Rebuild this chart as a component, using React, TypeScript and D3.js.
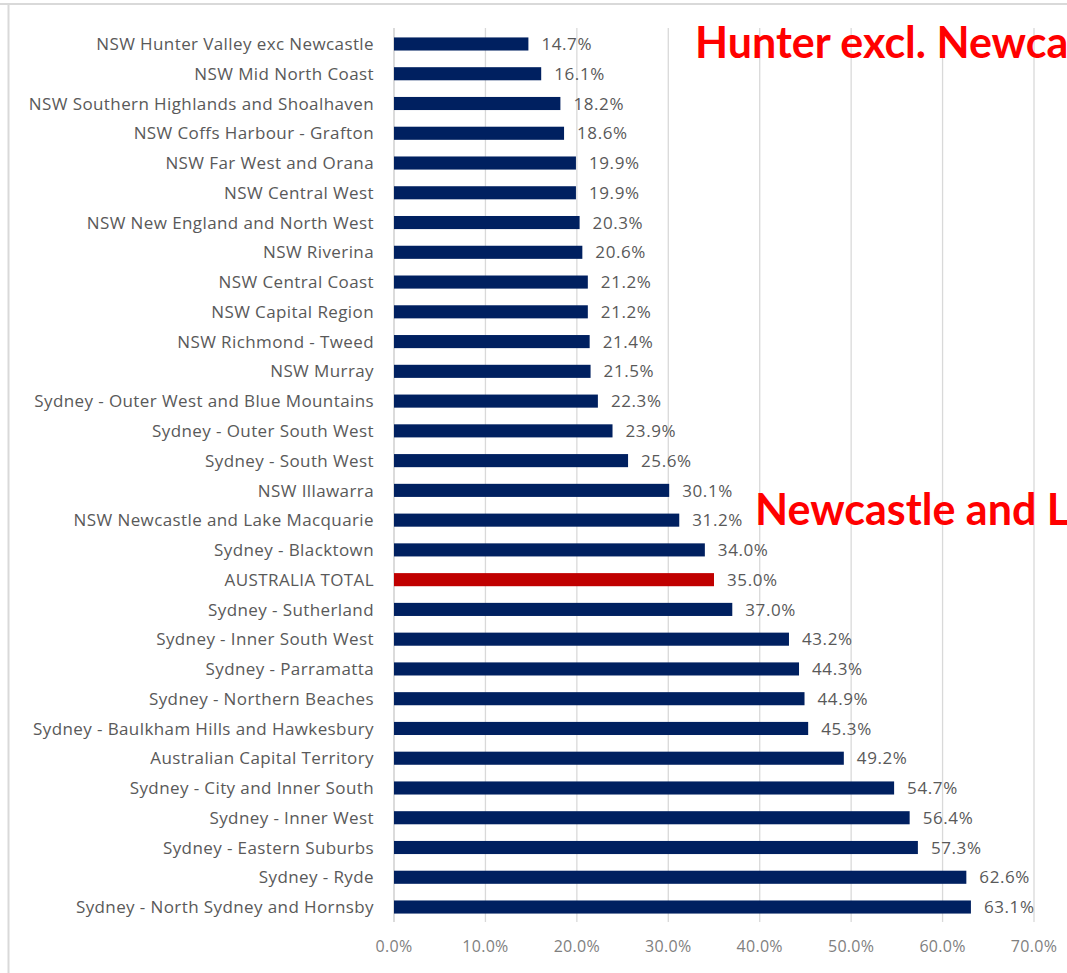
import React from "react";
import * as d3 from "d3";

const categories = [
  "NSW Hunter Valley exc Newcastle",
  "NSW Mid North Coast",
  "NSW Southern Highlands and Shoalhaven",
  "NSW Coffs Harbour - Grafton",
  "NSW Far West and Orana",
  "NSW Central West",
  "NSW New England and North West",
  "NSW Riverina",
  "NSW Central Coast",
  "NSW Capital Region",
  "NSW Richmond - Tweed",
  "NSW Murray",
  "Sydney - Outer West and Blue Mountains",
  "Sydney - Outer South West",
  "Sydney - South West",
  "NSW Illawarra",
  "NSW Newcastle and Lake Macquarie",
  "Sydney - Blacktown",
  "AUSTRALIA TOTAL",
  "Sydney - Sutherland",
  "Sydney - Inner South West",
  "Sydney - Parramatta",
  "Sydney - Northern Beaches",
  "Sydney - Baulkham Hills and Hawkesbury",
  "Australian Capital Territory",
  "Sydney - City and Inner South",
  "Sydney - Inner West",
  "Sydney - Eastern Suburbs",
  "Sydney - Ryde",
  "Sydney - North Sydney and Hornsby",
];

const values = [
  14.7, 16.1, 18.2, 18.6, 19.9, 19.9, 20.3, 20.6, 21.2, 21.2, 21.4, 21.5, 22.3,
  23.9, 25.6, 30.1, 31.2, 34.0, 35.0, 37.0, 43.2, 44.3, 44.9, 45.3, 49.2, 54.7,
  56.4, 57.3, 62.6, 63.1,
];

const highlight = ["AUSTRALIA TOTAL"];

const xTicks = [0, 10, 20, 30, 40, 50, 60, 70];

const annotations = [
  { text: "Hunter excl. Newcastle", x: 695, y: 58 },
  { text: "Newcastle and Lake Macquarie", x: 755, y: 525 },
];

const W = 1067;
const H = 973;
const FONT = "'Open Sans', Lato, sans-serif";
const TITLE_FONT = "Lato, 'Open Sans', sans-serif";

export default function App() {
  const x = d3.scaleLinear().domain([0, 70]).range([394, 1034]);
  const y = d3
    .scaleBand<string>()
    .domain(categories)
    .range([29.1, 921.9])
    .paddingInner(0.56)
    .paddingOuter(0.28);
  const plotTop = 28;
  const plotBottom = 922;
  const fmt = d3.format(".1f");

  return (
    <svg
      width={W}
      height={H}
      style={{ position: "absolute", left: 0, top: 0, background: "#fff" }}
      fontFamily={FONT}
    >
      <rect x={0} y={0} width={W} height={H} fill="#fff" />
      {/* frame */}
      <line x1={0} x2={W} y1={4} y2={4} stroke="#d9d9d9" strokeWidth={2} />
      <line x1={8.5} x2={8.5} y1={4} y2={H} stroke="#d9d9d9" strokeWidth={2} />
      {/* gridlines */}
      {xTicks.map((t) => (
        <line
          key={"g" + t}
          x1={x(t)}
          x2={x(t)}
          y1={plotTop}
          y2={plotBottom}
          stroke={t === 0 ? "#c8c8c8" : "#d9d9d9"}
          strokeWidth={1.3}
        />
      ))}
      {/* tick labels */}
      {xTicks.map((t) => (
        <text
          key={"t" + t}
          x={x(t)}
          y={952}
          textAnchor="middle"
          fontSize={16}
          letterSpacing={0.3}
          fill="#7f7f7f"
        >
          {fmt(t) + "%"}
        </text>
      ))}
      {/* bars */}
      {categories.map((c, i) => {
        const yy = y(c)!;
        const bw = y.bandwidth();
        const v = values[i];
        return (
          <g key={c}>
            <rect
              x={x(0)}
              y={yy}
              width={x(v) - x(0)}
              height={bw}
              fill={highlight.includes(c) ? "#c00000" : "#002060"}
            />
            <text
              x={x(v) + 13}
              y={yy + bw / 2}
              dy="0.36em"
              fontSize={17}
              letterSpacing={0.6}
              fill="#595959"
            >
              {fmt(v) + "%"}
            </text>
            <text
              x={374}
              y={yy + bw / 2}
              dy="0.36em"
              textAnchor="end"
              fontSize={17}
              letterSpacing={0.4}
              fill="#595959"
            >
              {c}
            </text>
          </g>
        );
      })}
      {/* annotations */}
      {annotations.map((a) => (
        <text
          key={a.text}
          x={a.x}
          y={a.y}
          fontSize={43}
          fontWeight={700}
          fontFamily={TITLE_FONT}
          fill="#ff0000"
        >
          {a.text}
        </text>
      ))}
    </svg>
  );
}
